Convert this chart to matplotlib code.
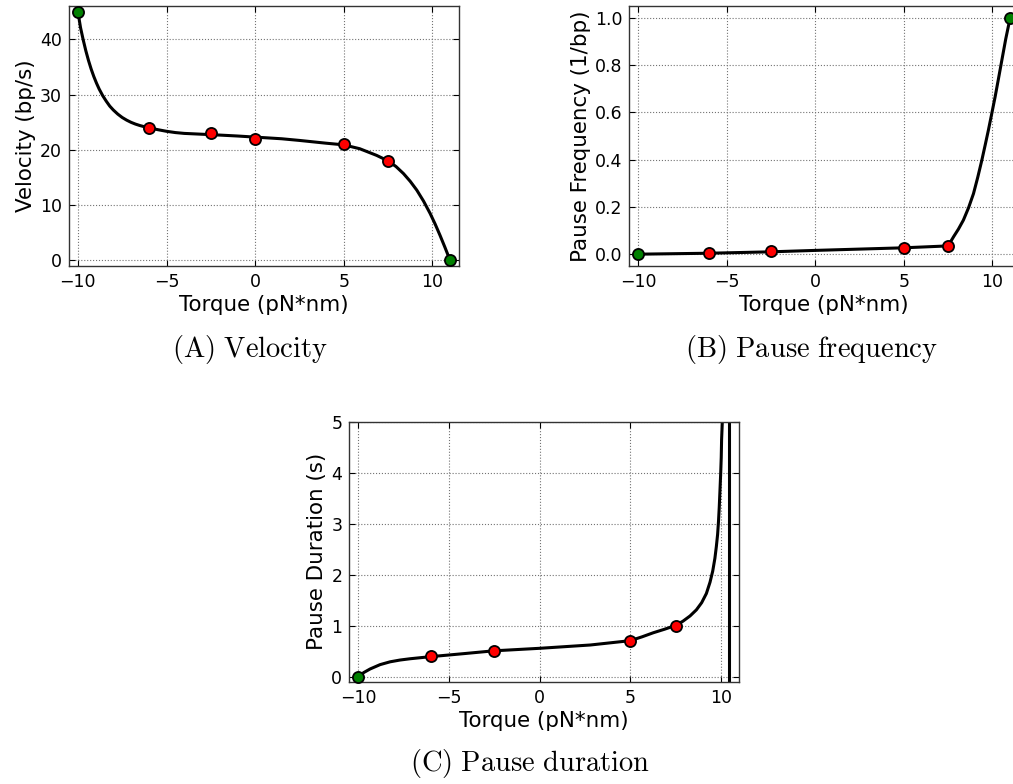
import matplotlib
matplotlib.use('Agg')
import matplotlib.pyplot as plt
import numpy as np

plt.rcParams['mathtext.fontset'] = 'cm'

# measured points (torque in pN*nm)
vel_x = [-10, -6, -2.5, 0, 5, 7.5, 11]
vel_y = [45, 24, 23, 22, 21, 18, 0]
vel_col = ['green', 'red', 'red', 'red', 'red', 'red', 'green']

freq_x = [-10, -6, -2.5, 5, 7.5, 11]
freq_y = [0.0, 0.003, 0.012, 0.027, 0.035, 1.0]
freq_col = ['green', 'red', 'red', 'red', 'red', 'green']

dur_x = [-10, -6, -2.5, 5, 7.5]
dur_y = [0.0, 0.4, 0.5, 0.7, 1.0]
dur_col = ['green', 'red', 'red', 'red', 'red']

# fitted curves
vel_fit_x = [-10, -9.85, -9.7, -9.55, -9.4, -9.25, -9.1, -8.95, -8.8, -8.6, -8.4, -8.2, -8.0,
             -7.75, -7.5, -7.25, -7.0, -6.75, -6.5, -6.25, -6.0, -5.5, -5.0, -4.5, -4.0, -3.0,
             -2.5, -1.0, 0, 1.5, 2.5, 4.0, 5.0, 5.9, 6.85, 7.5, 7.95, 8.37, 8.75, 9.12, 9.5,
             9.87, 10.15, 10.43, 10.7, 11.0]
vel_fit_y = [45, 42.1, 39.9, 37.9, 36.15, 34.6, 33.25, 32.06, 31.0, 29.8, 28.8, 27.9, 27.2,
             26.46, 25.85, 25.37, 24.97, 24.65, 24.39, 24.18, 24.0, 23.65, 23.35, 23.12, 22.97, 22.82,
             22.75, 22.5, 22.3, 22.0, 21.7, 21.2, 20.9, 20.2, 19.0, 18.0, 16.97, 15.7, 14.3, 12.71, 10.73,
             8.51, 6.61, 4.54, 2.43, 0]

freq_fit_x = [-10, -6, -2.5, 0, 5, 7.5, 7.8, 8.08, 8.36, 8.65, 8.93, 9.17, 9.4, 9.6, 9.77,
              9.96, 10.15, 10.34, 10.53, 10.75, 11.0]
freq_fit_y = [0.0, 0.004, 0.01, 0.016, 0.027, 0.035, 0.073, 0.106, 0.144, 0.196, 0.256, 0.325,
              0.397, 0.465, 0.524, 0.594, 0.665, 0.742, 0.82, 0.91, 1.0]

dur_fit_x = [-10, -9.7, -9.35, -8.8, -8.25, -7.7, -7.15, -6.05, -4.2, -2.55, 0, 2.8, 5.0,
             5.65, 6.27, 6.9, 7.47, 7.9, 8.3, 8.65, 8.94, 9.2, 9.4, 9.55, 9.67, 9.75, 9.82,
             9.87, 9.91, 9.95, 9.99, 10.02, 10.04, 10.08, 10.2]
dur_fit_y = [0.0, 0.08, 0.15, 0.235, 0.29, 0.325, 0.35, 0.39, 0.45, 0.505, 0.555, 0.62, 0.705,
             0.78, 0.86, 0.93, 1.0, 1.085, 1.19, 1.31, 1.45, 1.63, 1.85, 2.07, 2.32, 2.55, 2.79,
             3.05, 3.32, 3.65, 3.99, 4.3, 4.65, 5.0, 8.0]
dur_pole = 10.46

W, H = 1013, 784
fig = plt.figure(figsize=(W / 100, H / 100), dpi=100)


def px_axes(left, top, right, bottom):
    return fig.add_axes([left / W, 1 - bottom / H, (right - left) / W, (bottom - top) / H])


def style(ax, ylabel, xlim, ylim, yticks):
    ax.set_xlim(*xlim)
    ax.set_ylim(*ylim)
    ax.set_xticks([-10, -5, 0, 5, 10])
    ax.set_yticks(yticks)
    ax.grid(True, color='0.45', linestyle=':', linewidth=0.8)
    ax.tick_params(direction='in', length=4, top=True, right=True, labelsize=12.5, pad=5)
    ax.set_xlabel('Torque (pN*nm)', fontsize=15.4, labelpad=3)
    ax.set_ylabel(ylabel, fontsize=15.4, labelpad=3)
    for s in ax.spines.values():
        s.set_linewidth(1.0)
        s.set_color('#333333')


def points(ax, xs, ys, cols):
    for x, y, c in zip(xs, ys, cols):
        ax.plot(x, y, 'o', color=c, markersize=8, markeredgecolor='k', markeredgewidth=1.3,
                zorder=5, clip_on=False)


# (A) velocity
axA = px_axes(69, 6, 459, 266)
axA.plot(vel_fit_x, vel_fit_y, color='k', lw=2.2)
points(axA, vel_x, vel_y, vel_col)
style(axA, 'Velocity (bp/s)', (-10.5, 11.5), (-1, 46), [0, 10, 20, 30, 40])
fig.text(250 / W, 1 - 350 / H, r'$\mathrm{(A)\ Velocity}$', ha='center', va='center', fontsize=20.5)

# (B) pause frequency
axB = px_axes(629.3, 6, 1019, 266)
axB.plot(freq_fit_x, freq_fit_y, color='k', lw=2.2)
points(axB, freq_x, freq_y, freq_col)
style(axB, 'Pause Frequency (1/bp)', (-10.5, 11.5), (-0.05, 1.05), [0.0, 0.2, 0.4, 0.6, 0.8, 1.0])
fig.text(811 / W, 1 - 350 / H, r'$\mathrm{(B)\ Pause\ frequency}$', ha='center', va='center', fontsize=20.5)

# (C) pause duration
axC = px_axes(349.3, 421.7, 739, 681.7)
axC.plot(dur_fit_x, dur_fit_y, color='k', lw=2.2)
axC.axvline(dur_pole, color='k', lw=2.2)
points(axC, dur_x, dur_y, dur_col)
style(axC, 'Pause Duration (s)', (-10.5, 11.0), (-0.1, 5), [0, 1, 2, 3, 4, 5])
fig.text(530 / W, 1 - 764 / H, r'$\mathrm{(C)\ Pause\ duration}$', ha='center', va='center', fontsize=20.5)

fig.savefig('out.png', dpi=100)
